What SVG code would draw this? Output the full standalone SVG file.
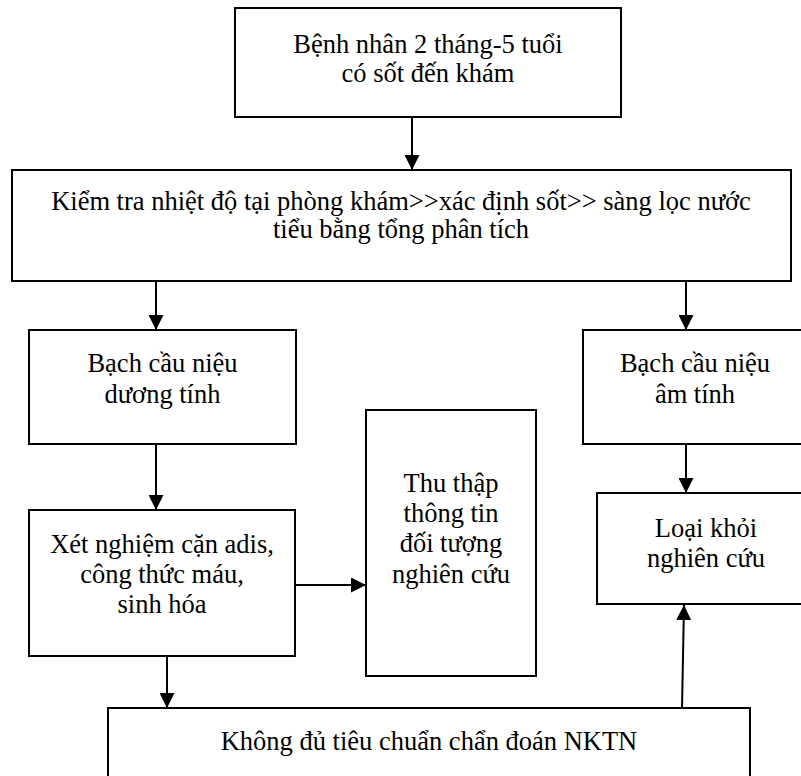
<svg xmlns="http://www.w3.org/2000/svg" width="801" height="776" viewBox="0 0 801 776">
<defs>
<marker id="ah" markerWidth="15" markerHeight="15" refX="15" refY="7.5" orient="auto" markerUnits="userSpaceOnUse">
<path d="M0,0 L15,7.5 L0,15 Z" fill="#000"/>
</marker>
<style>
.box{fill:#fff;stroke:#000;stroke-width:2}
.t{font-family:"Liberation Serif","Times New Roman",serif;font-size:26.5px;fill:#000;text-anchor:middle}
.c{stroke:#000;stroke-width:2;fill:none;marker-end:url(#ah)}
</style>
</defs>
<rect width="801" height="776" fill="#fff"/>
<g id="connectors">
<line class="c" x1="412" y1="117" x2="412" y2="170"/>
<line class="c" x1="156" y1="281" x2="156" y2="330"/>
<line class="c" x1="686" y1="281" x2="686" y2="330"/>
<line class="c" x1="156" y1="444" x2="156" y2="510"/>
<line class="c" x1="686" y1="444" x2="686" y2="493"/>
<line class="c" x1="295" y1="585" x2="366" y2="585"/>
<line class="c" x1="167" y1="656" x2="167" y2="708"/>
<line class="c" x1="682" y1="708" x2="684" y2="605"/>
</g>
<g id="n1">
<rect class="box" x="235" y="8" width="386" height="109"/>
<text class="t" x="428" y="53">Bệnh nhân 2 tháng-5 tuổi</text>
<text class="t" x="428" y="82">có sốt đến khám</text>
</g>
<g id="n2">
<rect class="box" x="12" y="170" width="779" height="111"/>
<text class="t" x="401" y="210">Kiểm tra nhiệt độ tại phòng khám&gt;&gt;xác định sốt&gt;&gt; sàng lọc nước</text>
<text class="t" x="401" y="238">tiểu bằng tổng phân tích</text>
</g>
<g id="n3">
<rect class="box" x="29" y="330" width="267" height="114"/>
<text class="t" x="162.5" y="372">Bạch cầu niệu</text>
<text class="t" x="162.5" y="403">dương tính</text>
</g>
<g id="n4">
<rect class="box" x="583" y="330" width="226" height="114"/>
<text class="t" x="695" y="372">Bạch cầu niệu</text>
<text class="t" x="695" y="403">âm tính</text>
</g>
<g id="n5">
<rect class="box" x="29" y="510" width="266" height="146"/>
<text class="t" x="162" y="553">Xét nghiệm cặn adis,</text>
<text class="t" x="162" y="583">công thức máu,</text>
<text class="t" x="162" y="613">sinh hóa</text>
</g>
<g id="n6">
<rect class="box" x="366" y="410" width="170" height="266"/>
<text class="t" x="451" y="492">Thu thập</text>
<text class="t" x="451" y="522">thông tin</text>
<text class="t" x="451" y="552">đối tượng</text>
<text class="t" x="451" y="583">nghiên cứu</text>
</g>
<g id="n7">
<rect class="box" x="597" y="493" width="218" height="111"/>
<text class="t" x="706" y="537">Loại khỏi</text>
<text class="t" x="706" y="567">nghiên cứu</text>
</g>
<g id="n8">
<rect class="box" x="108" y="708" width="642" height="90"/>
<text class="t" x="429" y="750">Không đủ tiêu chuẩn chẩn đoán NKTN</text>
</g>
</svg>
